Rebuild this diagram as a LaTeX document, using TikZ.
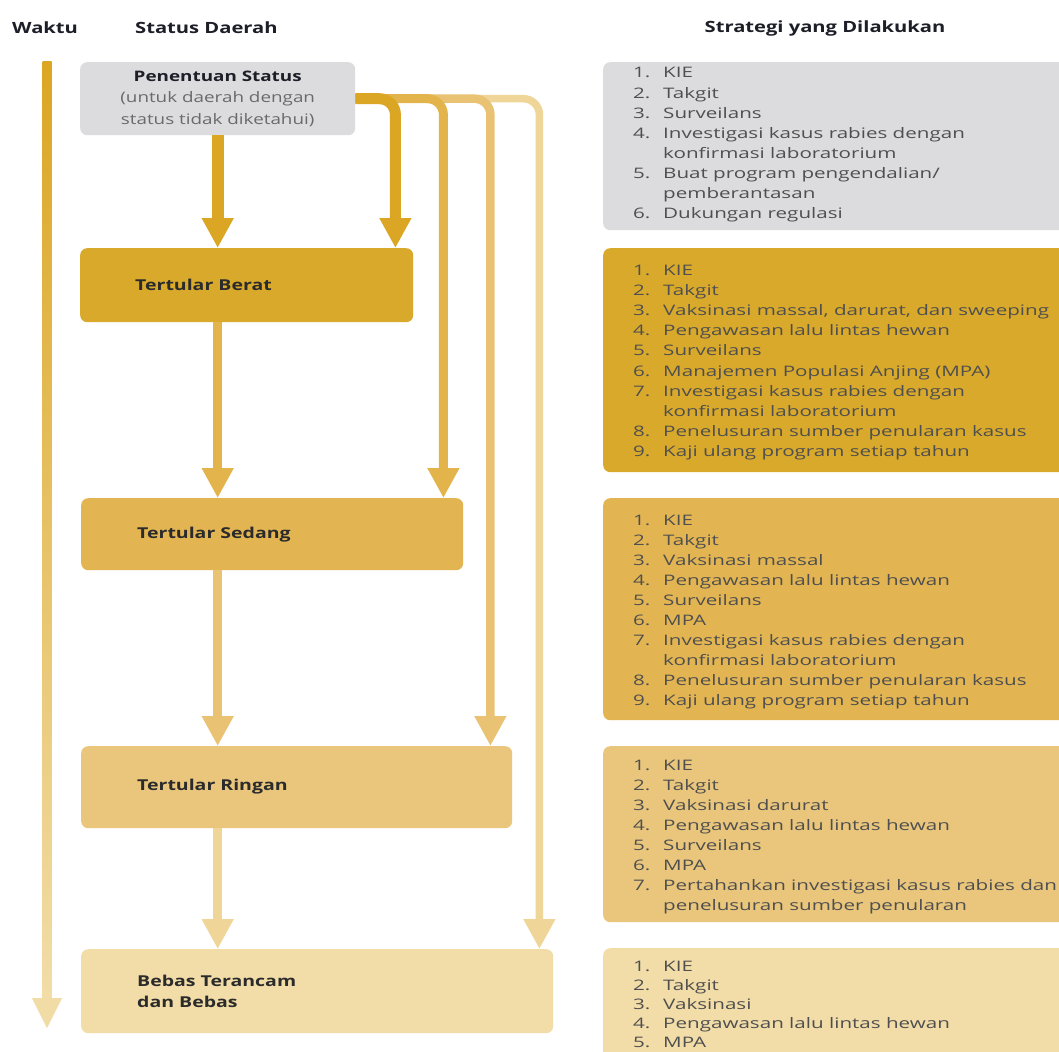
\documentclass[tikz,border=0pt]{standalone}
\usepackage{fontspec}
\setmainfont[FakeStretch=1.3]{Open Sans}
\newfontfamily\listfont[FakeStretch=1.42]{Open Sans}
\usetikzlibrary{arrows.meta,calc}

% palette: status levels from heavy to free
\definecolor{cGray}{HTML}{DCDCDE}
\definecolor{cBerat}{HTML}{D9A92B}
\definecolor{cSedang}{HTML}{E3B552}
\definecolor{cRingan}{HTML}{E9C67C}
\definecolor{cBebas}{HTML}{F2DDA8}
\definecolor{aBerat}{HTML}{DBA623}
\definecolor{aSedang}{HTML}{E3B44C}
\definecolor{aRingan}{HTML}{E9C373}
\definecolor{aBebas}{HTML}{EFD597}
\definecolor{ink}{HTML}{2B2B2B}
\definecolor{subink}{HTML}{6A6A6A}
\definecolor{listink}{HTML}{4F4F4F}
\definecolor{headink}{HTML}{1E1E28}

\tikzset{
  panel/.style={rectangle, rounded corners=7pt, anchor=north west, inner sep=0pt, draw=none},
  header/.style={font=\fontsize{15.5}{18}\selectfont\bfseries, text=headink, inner sep=0pt},
  stlabel/.style={font=\fontsize{15}{21}\selectfont\bfseries, text=ink, inner sep=0pt, align=left},
  item/.style={font=\listfont\fontsize{14.5}{18}\selectfont, text=listink, inner sep=0pt, anchor=base west},
  flow/.style={-{Triangle[width=30pt,length=30pt]}},
}
\newcommand\numitem[2]{\makebox[30pt][l]{#1}#2}

\begin{document}
\begin{tikzpicture}[x=1pt,y=-1pt]
\useasboundingbox[fill=white] (0,0) rectangle (1059,1051);

% column headers
\node[header, anchor=west] (hWaktu) at (12,28) {Waktu};
\node[header, anchor=west] (hStatus) at (135,28) {Status Daerah};
\node[header] (hStrat) at (825,28) {Strategi yang Dilakukan};

% time axis with fading colour
\coordinate (tTop) at (47,62);
\coordinate (tHead) at (47,998);
\coordinate (tTip) at (47,1028);
\shade[top color=aBerat, bottom color=cBebas] ($(tTop)+(-4.5,0)$) rectangle ($(tHead)+(4.5,1)$);
\fill[cBebas!95!aRingan] ($(tHead)+(-15,0)$) -- ($(tHead)+(15,0)$) -- (tTip) -- cycle;

% status boxes
\node[panel, fill=cGray, minimum width=275pt, minimum height=73pt] (pen) at (80,62) {};
\node[panel, fill=cBerat, minimum width=333pt, minimum height=74pt] (berat) at (80,248) {};
\node[panel, fill=cSedang, minimum width=382pt, minimum height=72pt] (sedang) at (81,498) {};
\node[panel, fill=cRingan, minimum width=431pt, minimum height=82pt] (ringan) at (81,746) {};
\node[panel, fill=cBebas, minimum width=472pt, minimum height=84pt] (bebas) at (81,949) {};

\node[font=\fontsize{14.5}{21.5}\selectfont, text=subink, align=center, inner sep=0pt] (penTxt) at (pen.center)
  {\textcolor{headink}{\bfseries Penentuan Status}\\(untuk daerah dengan\\status tidak diketahui)};
\node[stlabel, anchor=west] (beratTxt) at (135,285) {Tertular Berat};
\node[stlabel, anchor=west] (sedangTxt) at (137,535) {Tertular Sedang};
\node[stlabel, anchor=west] (ringanTxt) at (137,787) {Tertular Ringan};
\node[stlabel, anchor=west] (bebasTxt) at (137,991) {Bebas Terancam\\dan Bebas};

% step-down arrows between consecutive levels
\draw[flow, line width=12pt, aBerat] (pen.south) -- (pen.south |- berat.north);
\draw[flow, line width=9pt, aSedang] (pen.south |- berat.south) -- (pen.south |- sedang.north);
\draw[flow, line width=9pt, aRingan] (pen.south |- sedang.south) -- (pen.south |- ringan.north);
\draw[flow, line width=9pt, aBebas] (pen.south |- ringan.south) -- (pen.south |- bebas.north);

% direct assignment from the undetermined status (longest drawn first)
\draw[flow, line width=7.5pt, aBebas, rounded corners=16pt] (pen.east) -| ([xshift=-14pt]bebas.north east);
\draw[flow, line width=8.5pt, aRingan, rounded corners=16pt] (pen.east) -| ([xshift=-22pt]ringan.north east);
\draw[flow, line width=9pt, aSedang, rounded corners=16pt] (pen.east) -| ([xshift=-20pt]sedang.north east);
\draw[flow, line width=11pt, aBerat, rounded corners=16pt] (pen.east) -| ([xshift=-18pt]berat.north east);

% strategy panels
\node[panel, fill=cGray, minimum width=470pt, minimum height=168pt] (sA) at (603,62) {};
\node[panel, fill=cBerat, minimum width=470pt, minimum height=224pt] (sB) at (603,248) {};
\node[panel, fill=cSedang, minimum width=470pt, minimum height=222pt] (sC) at (603,498) {};
\node[panel, fill=cRingan, minimum width=470pt, minimum height=176pt] (sD) at (603,746) {};
\node[panel, fill=cBebas, minimum width=470pt, minimum height=130pt] (sE) at (603,948) {};

\foreach \n/\t [count=\k from 0] in {1./KIE, 2./Takgit, 3./Surveilans,
    4./Investigasi kasus rabies dengan, {}/konfirmasi laboratorium,
    5./{Buat program pengendalian/}, {}/pemberantasan, 6./Dukungan regulasi}
  \node[item] (ia\k) at (633,78+20.1*\k) {\numitem{\n}{\t}};

\foreach \n/\t [count=\k from 0] in {1./KIE, 2./Takgit, 3./{Vaksinasi massal, darurat, dan sweeping},
    4./Pengawasan lalu lintas hewan, 5./Surveilans, 6./Manajemen Populasi Anjing (MPA),
    7./Investigasi kasus rabies dengan, {}/konfirmasi laboratorium,
    8./Penelusuran sumber penularan kasus, 9./Kaji ulang program setiap tahun}
  \node[item] (ib\k) at (633,275+20.2*\k) {\numitem{\n}{\t}};

\foreach \n/\t [count=\k from 0] in {1./KIE, 2./Takgit, 3./Vaksinasi massal,
    4./Pengawasan lalu lintas hewan, 5./Surveilans, 6./MPA,
    7./Investigasi kasus rabies dengan, {}/konfirmasi laboratorium,
    8./Penelusuran sumber penularan kasus, 9./Kaji ulang program setiap tahun}
  \node[item] (ic\k) at (633,525+20*\k) {\numitem{\n}{\t}};

\foreach \n/\t [count=\k from 0] in {1./KIE, 2./Takgit, 3./Vaksinasi darurat,
    4./Pengawasan lalu lintas hewan, 5./Surveilans, 6./MPA,
    7./Pertahankan investigasi kasus rabies dan, {}/penelusuran sumber penularan}
  \node[item] (id\k) at (633,770+20*\k) {\numitem{\n}{\t}};

\foreach \n/\t [count=\k from 0] in {1./KIE, 2./Takgit, 3./Vaksinasi,
    4./Pengawasan lalu lintas hewan, 5./MPA}
  \node[item] (ie\k) at (633,971+19*\k) {\numitem{\n}{\t}};
\end{tikzpicture}
\end{document}
